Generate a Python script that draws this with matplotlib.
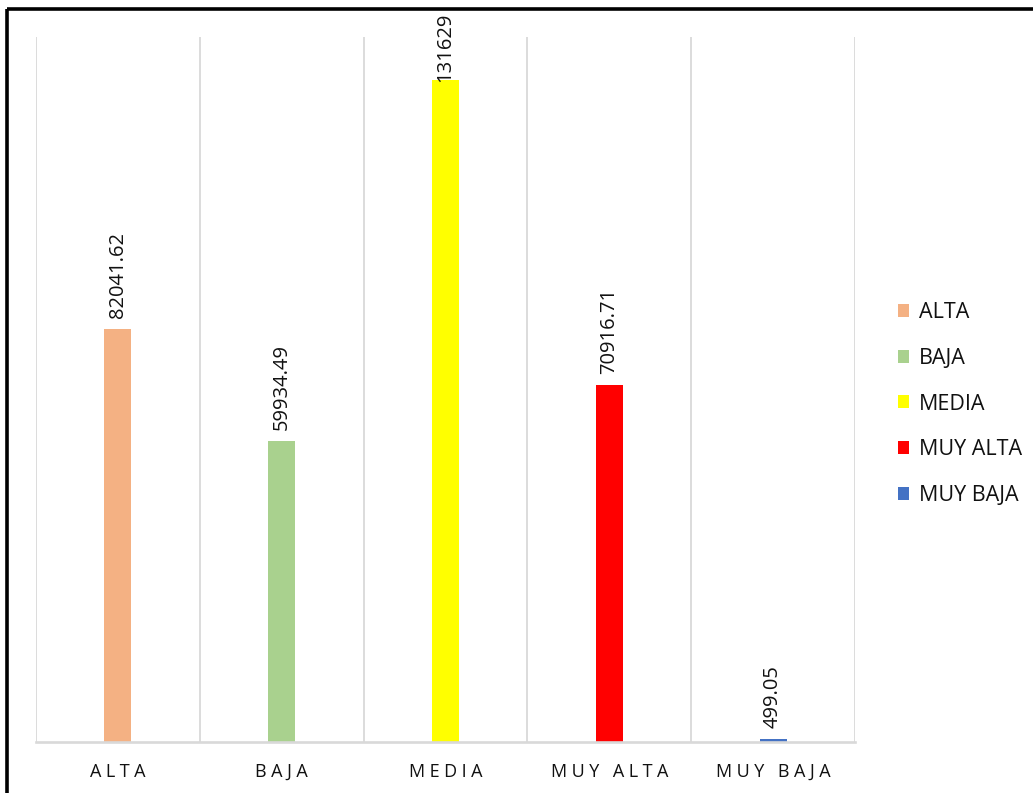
import matplotlib
matplotlib.use("Agg")
import matplotlib.pyplot as plt
from matplotlib.lines import Line2D

plt.rcParams["font.family"] = ["Open Sans", "DejaVu Sans"]

categories = ["ALTA", "BAJA", "MEDIA", "MUY ALTA", "MUY BAJA"]
values = [82041.62, 59934.49, 131629, 70916.71, 499.05]
colors = ["#F4B183", "#A9D18E", "#FFFF00", "#FF0000", "#4472C4"]


def fmt(v):
    return ("%.2f" % v).rstrip("0").rstrip(".")


def spaced(s):
    # Excel-style letter spacing on the category axis
    return "\u2005 \u2005".join("\u2005".join(w) for w in s.split())


fig = plt.figure(figsize=(10.33, 7.93), dpi=100)
fig.patch.set_facecolor("white")
ax = fig.add_axes([36 / 1033, 1 - 742 / 793, (855 - 36) / 1033, (742 - 37) / 793])

x = range(len(categories))
labels = []
for i, (cat, v, c) in enumerate(zip(categories, values, colors)):
    ax.bar(i, v, width=0.165, color=c, label=cat, zorder=2)
    t = ax.annotate(fmt(v), (i, v), textcoords="offset points", xytext=(0, 8),
                    rotation=90, ha="center", va="bottom", fontsize=14.5, color="#111111")
    labels.append(t)

ax.set_xlim(-0.5, len(categories) - 0.5)
ax.set_ylim(0, 140200)
ax.set_yticks([])
ax.set_xticks(list(x))
ax.set_xticklabels([spaced(c) for c in categories], fontsize=13, color="#111111")
ax.tick_params(axis="x", length=0, pad=15)
for b in [k - 0.5 for k in range(len(categories) + 1)]:
    ax.axvline(b, color="#d9d9d9", lw=1.3, zorder=1)
for s in ["top", "right", "left"]:
    ax.spines[s].set_visible(False)
ax.spines["bottom"].set_color("#d9d9d9")
ax.spines["bottom"].set_linewidth(1.9)
ax.spines["bottom"].set_zorder(3)

leg = fig.legend(loc="center left", bbox_to_anchor=(889 / 1033, 1 - 404 / 793),
                 frameon=False, fontsize=15.5, handlelength=0.55, handleheight=0.55,
                 handletextpad=0.45, labelspacing=1.15, borderaxespad=0)
for t in leg.get_texts():
    t.set_color("#111111")

# keep data labels inside the chart area (like Excel does)
fig.canvas.draw()
r = fig.canvas.get_renderer()
limit = fig.bbox.height - 13
for t in labels:
    bb = t.get_window_extent(r)
    if bb.y1 > limit:
        dy = (bb.y1 - limit) * 72 / fig.dpi
        t.xyann = (0, 8 - dy)

# outer border: only the top and left edges fall inside the image
bx, by = 7 / 1033, 1 - 9 / 793
fig.add_artist(Line2D([bx, 1.1], [by, by], transform=fig.transFigure, color="black",
                      lw=2.6, solid_capstyle="butt"))
fig.add_artist(Line2D([bx, bx], [-0.1, by], transform=fig.transFigure, color="black",
                      lw=2.6, solid_capstyle="butt"))

fig.savefig("out.png", facecolor="white")
